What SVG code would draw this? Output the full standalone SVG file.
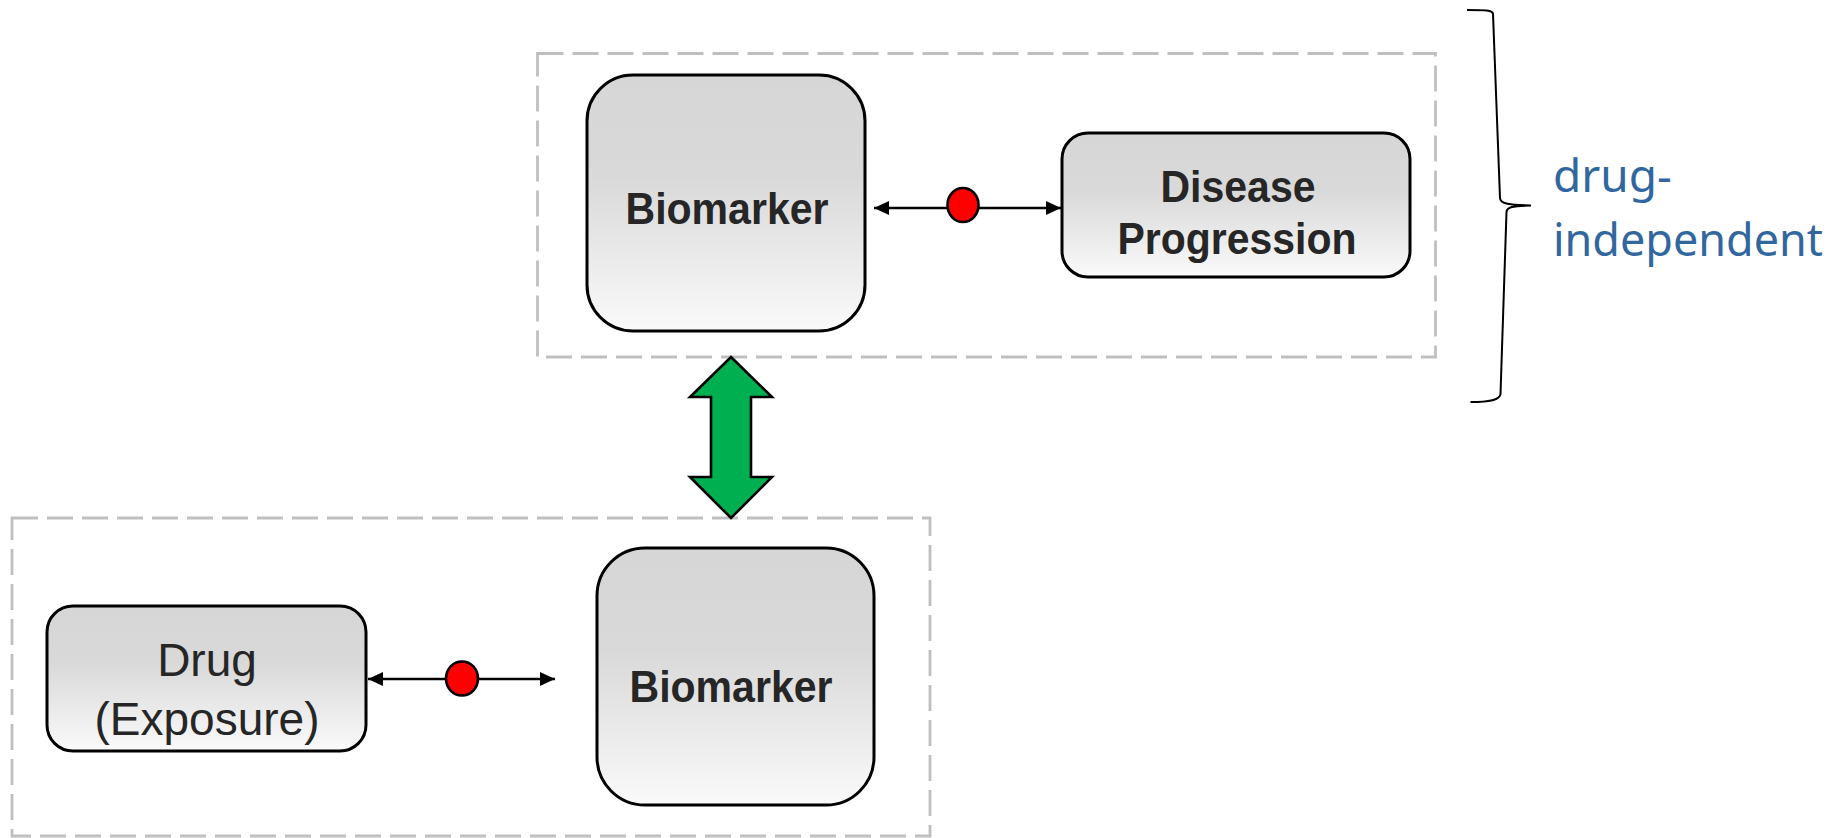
<svg xmlns="http://www.w3.org/2000/svg" width="1843" height="838" viewBox="0 0 1843 838">
<defs>
<linearGradient id="boxgrad" x1="0" y1="0" x2="0" y2="1">
<stop offset="0" stop-color="#D6D6D6"/>
<stop offset="0.4" stop-color="#D9D9D9"/>
<stop offset="1" stop-color="#FAFAFA"/>
</linearGradient>
<marker id="ah" viewBox="0 0 15 14" markerWidth="15" markerHeight="14" refX="15" refY="7" orient="auto-start-reverse" markerUnits="userSpaceOnUse">
<path d="M0,0 L15,7 L0,14 z" fill="#000"/>
</marker>
<style>
.group { fill: none; stroke: #BFBFBF; stroke-width: 2.8; stroke-dasharray: 26 9; }
.box { fill: url(#boxgrad); stroke: #000; stroke-width: 3; }
.lbl { font-family: "Liberation Sans", Arial, sans-serif; fill: #262626; text-anchor: middle; }
.bold { font-weight: bold; font-size: 44px; }
.reg { font-size: 46px; }
.conn { stroke: #000; stroke-width: 2.6; fill: none; marker-start: url(#ah); marker-end: url(#ah); }
.dot { fill: #FF0000; stroke: #000; stroke-width: 2.6; }
.side { font-family: "Noto Sans", "Open Sans", sans-serif; font-size: 46px; fill: #31679E; }
</style>
</defs>

<g id="group-drug-independent">
<rect class="group" x="537.5" y="53.5" width="898" height="303.5"/>
</g>
<g id="group-drug-dependent">
<rect class="group" x="12" y="518" width="918" height="318"/>
</g>

<g id="node-biomarker-top">
<rect class="box" x="587" y="75" width="278" height="256" rx="46" ry="46"/>
<text class="lbl bold" x="727" y="224" textLength="203" lengthAdjust="spacingAndGlyphs">Biomarker</text>
</g>

<g id="node-disease-progression">
<rect class="box" x="1062" y="133" width="348" height="144" rx="26" ry="26"/>
<text class="lbl bold" x="1238" y="202" textLength="155" lengthAdjust="spacingAndGlyphs">Disease</text>
<text class="lbl bold" x="1237" y="254" textLength="239" lengthAdjust="spacingAndGlyphs">Progression</text>
</g>

<g id="node-drug">
<rect class="box" x="47" y="606" width="319" height="145" rx="26" ry="26"/>
<text class="lbl reg" x="207" y="676">Drug</text>
<text class="lbl reg" x="207" y="735">(Exposure)</text>
</g>

<g id="node-biomarker-bottom">
<rect class="box" x="597" y="548" width="277" height="257" rx="48" ry="48"/>
<text class="lbl bold" x="731" y="702" textLength="203" lengthAdjust="spacingAndGlyphs">Biomarker</text>
</g>

<g id="connectors">
<line class="conn" x1="874" y1="208" x2="1061" y2="208"/>
<ellipse class="dot" cx="963" cy="205" rx="15.5" ry="17"/>
<line class="conn" x1="368" y1="679" x2="555" y2="679"/>
<ellipse class="dot" cx="462" cy="678.5" rx="16" ry="17"/>
<polygon points="731,357 772,397 751,397 751,477 772,477 731,518 690,477 711,477 711,397 690,397" fill="#00B050" stroke="#000" stroke-width="2.6" stroke-linejoin="miter"/>
</g>

<g id="brace-drug-independent">
<path d="M1467,10 C1485,10 1493,10 1493,14 L1500,198 C1500,204 1510,205 1531,205.5 C1512,206 1507,207 1506.5,212 L1500.5,394 C1500,400 1490,402 1470.5,402" fill="none" stroke="#000" stroke-width="2"/>
<text class="side" x="1553" y="192">drug-</text>
<text class="side" x="1553" y="256" textLength="270" lengthAdjust="spacingAndGlyphs">independent</text>
</g>
</svg>
